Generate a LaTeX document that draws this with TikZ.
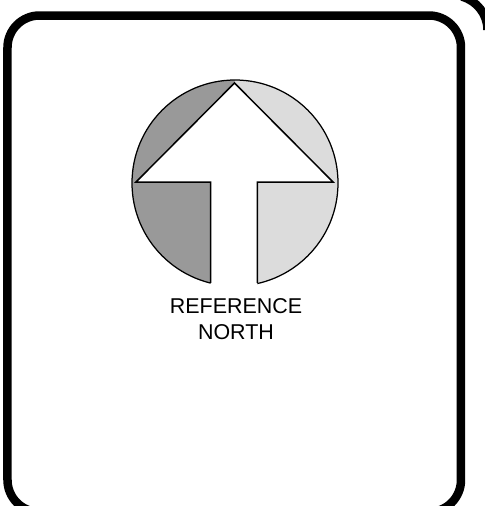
\documentclass[tikz,border=0pt]{standalone}
\usepackage{fontspec}
\setmainfont{Liberation Sans}
\definecolor{darkshade}{HTML}{999999}
\definecolor{lightshade}{HTML}{DCDCDC}
\tikzset{
    panel/.style={draw, line width=0.17cm},
    rim/.style={draw, line width=0.025cm},
    arrowedge/.style={draw, line width=0.03cm, line join=miter},
}
\begin{document}
\begin{tikzpicture}
    % Page, everything past it is cut off
    \clip (0,0) rectangle (9.7,10.12);
    \fill[white] (0,0) rectangle (9.7,10.12);

    % Panel and the corner of the one behind it
    \draw[panel, rounded corners=0.64cm] (0.15,-0.12) rectangle (9.22,9.81);
    \draw[panel] (9.06,9.52) ++(75:0.69) arc (75:0:0.69);

    % Disc, dark half and light half
    \coordinate (disc) at (4.70,6.46);
    \fill[darkshade] (disc) ++(90:2.06) arc (90:270:2.06) -- cycle;
    \fill[lightshade] (disc) ++(-90:2.06) arc (-90:90:2.06) -- cycle;
    \draw[rim] (disc) circle (2.06);

    % Arrow
    \coordinate (tip) at (4.69,8.46);
    \coordinate (wingL) at (2.72,6.48);
    \coordinate (wingR) at (6.66,6.48);
    \coordinate (neckL) at (4.21,6.48);
    \coordinate (neckR) at (5.15,6.48);
    \coordinate (footL) at (4.21,4.46);
    \coordinate (footR) at (5.15,4.46);
    \fill[white] (tip) -- (wingR) -- (neckR) -- (5.15,4.2) -- (4.21,4.2) -- (neckL) -- (wingL) -- cycle;
    \draw[arrowedge] (footR) -- (neckR) -- (wingR) -- (tip) -- (wingL) -- (neckL) -- (footL);

    % Label
    \node[align=center, font=\fontsize{12.2}{14.8}\selectfont] (label) at (4.72,3.74) {REFERENCE\\NORTH};
\end{tikzpicture}
\end{document}
